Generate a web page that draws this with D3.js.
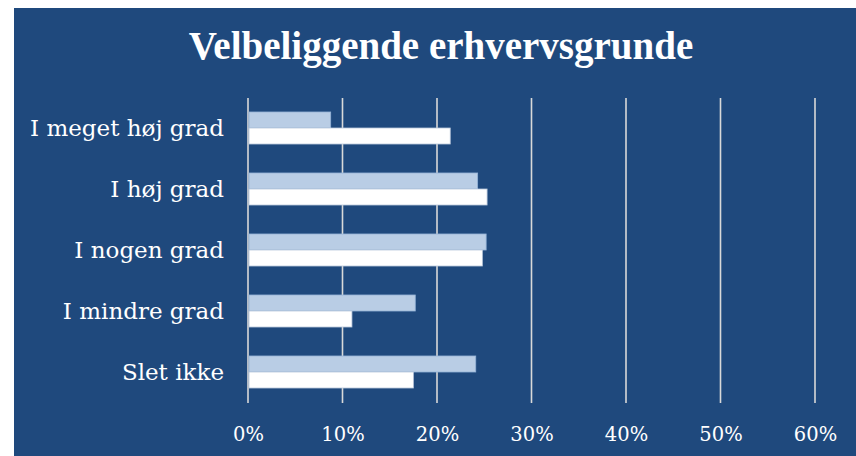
<!DOCTYPE html>
<html><head><meta charset="utf-8">
<script src="https://cdn.jsdelivr.net/npm/d3@7"></script>
<style>html,body{margin:0;padding:0;background:#fff;}svg{display:block;}</style>
</head><body>
<script>
const title = "Velbeliggende erhvervsgrunde";
const categories = ["I meget høj grad", "I høj grad", "I nogen grad", "I mindre grad", "Slet ikke"];
const seriesA = [0.0875, 0.243, 0.252, 0.177, 0.241];   // light blue
const seriesB = [0.214, 0.253, 0.248, 0.110, 0.175];   // white
const tickValues = [0, 0.1, 0.2, 0.3, 0.4, 0.5, 0.6];
const tickLabels = ["0%", "10%", "20%", "30%", "40%", "50%", "60%"];

const W = 856, H = 456;
const svg = d3.select("body").append("svg").attr("width", W).attr("height", H);
svg.append("rect").attr("x", 14).attr("y", 8).attr("width", W - 14).attr("height", H - 8).attr("fill", "#1F497D");

svg.append("text").attr("x", 441).attr("y", 59).attr("text-anchor", "middle")
  .attr("font-family", "Liberation Serif").attr("font-weight", "bold").attr("font-size", 39)
  .attr("fill", "#fff").text(title);

const x = d3.scaleLinear().domain([0, 0.6]).range([248, 815]);
const y = d3.scaleBand().domain(categories).range([97.5, 402.5]).paddingInner(0.475).paddingOuter(0.2375);
const bh = y.bandwidth() / 2;

// gridlines
svg.append("g").selectAll("line").data(tickValues).join("line")
  .attr("x1", d => x(d)).attr("x2", d => x(d)).attr("y1", 98).attr("y2", 403)
  .attr("stroke", "#D9D9D9").attr("stroke-width", 1.6);

// bars
const gA = svg.append("g");
gA.selectAll("rect").data(categories).join("rect")
  .attr("x", x(0) + 1).attr("y", d => y(d))
  .attr("width", (d, i) => x(seriesA[i]) - x(0) - 1).attr("height", bh)
  .attr("fill", "#B9CDE5").attr("stroke", "#95B3D7").attr("stroke-width", 0.8);
const gB = svg.append("g");
gB.selectAll("rect").data(categories).join("rect")
  .attr("x", x(0) + 1).attr("y", d => y(d) + bh)
  .attr("width", (d, i) => x(seriesB[i]) - x(0) - 1).attr("height", bh)
  .attr("fill", "#FFFFFF").attr("stroke", "#B8C7DB").attr("stroke-width", 0.8);

// x axis labels
const xAxis = d3.axisBottom(x).tickValues(tickValues).tickFormat((d, i) => tickLabels[i]).tickSize(0).tickPadding(0);
const gx = svg.append("g").attr("transform", "translate(0,427)").call(xAxis);
gx.select(".domain").remove();
gx.selectAll("text").attr("font-family", "DejaVu Serif").attr("font-size", 19.5).attr("fill", "#fff");

// y axis labels
const yAxis = d3.axisLeft(y).tickSize(0).tickPadding(0);
const gy = svg.append("g").attr("transform", "translate(224,0)").call(yAxis);
gy.select(".domain").remove();
gy.selectAll("text").attr("font-family", "DejaVu Serif").attr("font-size", 23).attr("fill", "#fff").attr("dy", "0.35em");
</script>
</body></html>
